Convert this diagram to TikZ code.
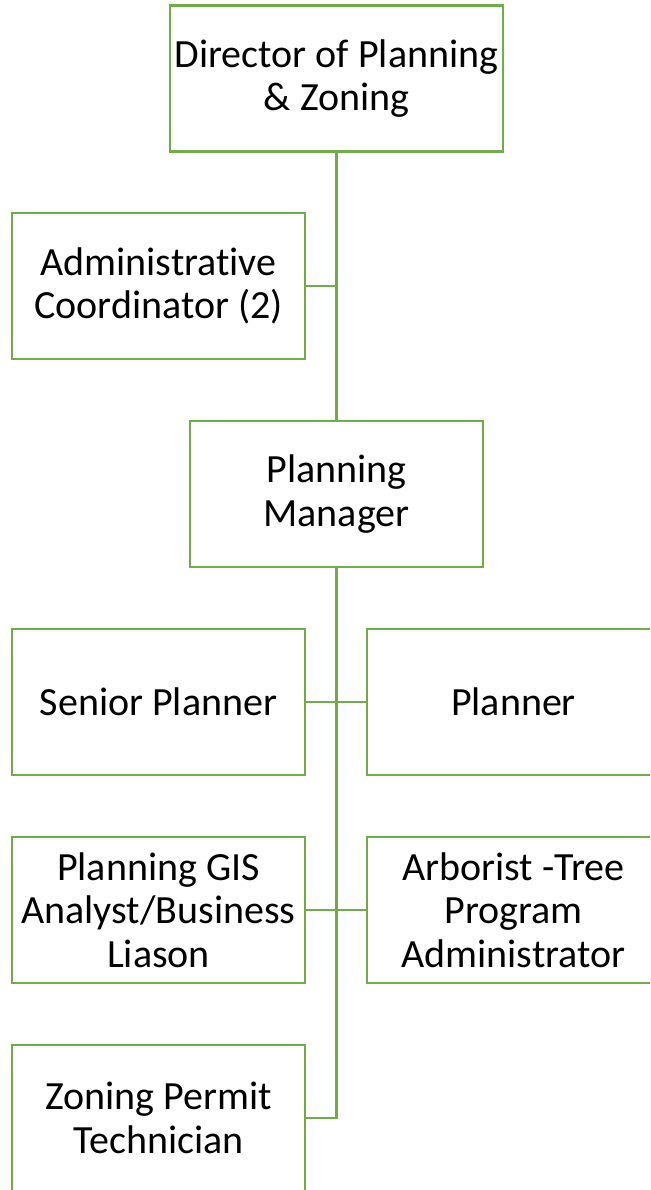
\documentclass[tikz,border=0pt]{standalone}
\usepackage{fontspec}
\setmainfont{Carlito}[Ligatures=NoCommon]
\definecolor{accent}{HTML}{70AD47}
\begin{document}
\begin{tikzpicture}[x=1pt,y=-1pt,
  box/.style={draw=accent, line width=2.3pt, fill=white, minimum width=293pt, minimum height=146pt,
    inner sep=0pt, align=center, font=\fontsize{40}{43.5}\selectfont},
  conn/.style={draw=accent, line width=2.3pt}]
\useasboundingbox (0,0) rectangle (650,1190);
\clip (0,0) rectangle (650,1190);
\node[box, minimum width=333pt] (dir) at (336.5,78.5) {Director of Planning\\\& Zoning};
\node[box] (admin) at (158.5,286) {Administrative\\Coordinator (2)};
\node[box] (mgr) at (336.5,494) {Planning\\Manager};
\node[box] (senior) at (158.5,702) {Senior Planner};
\node[box] (planner) at (513.5,702) {Planner};
\node[box] (gis) at (158.5,910) {Planning GIS\\Analyst/Business\\Liason};
\node[box] (arb) at (513.5,910) {Arborist -Tree\\Program\\Administrator};
\node[box] (zon) at (158.5,1118) {Zoning Permit\\Technician};
\coordinate (j1) at (admin.east -| mgr.north);
\coordinate (j2) at (zon.east -| mgr.south);
\draw[conn] (dir.south) -- (mgr.north);
\draw[conn] (admin.east) -- (j1);
\draw[conn] (mgr.south) -- (j2) -- (zon.east);
\draw[conn] (senior.east) -- (planner.west);
\draw[conn] (gis.east) -- (arb.west);
\end{tikzpicture}
\end{document}
